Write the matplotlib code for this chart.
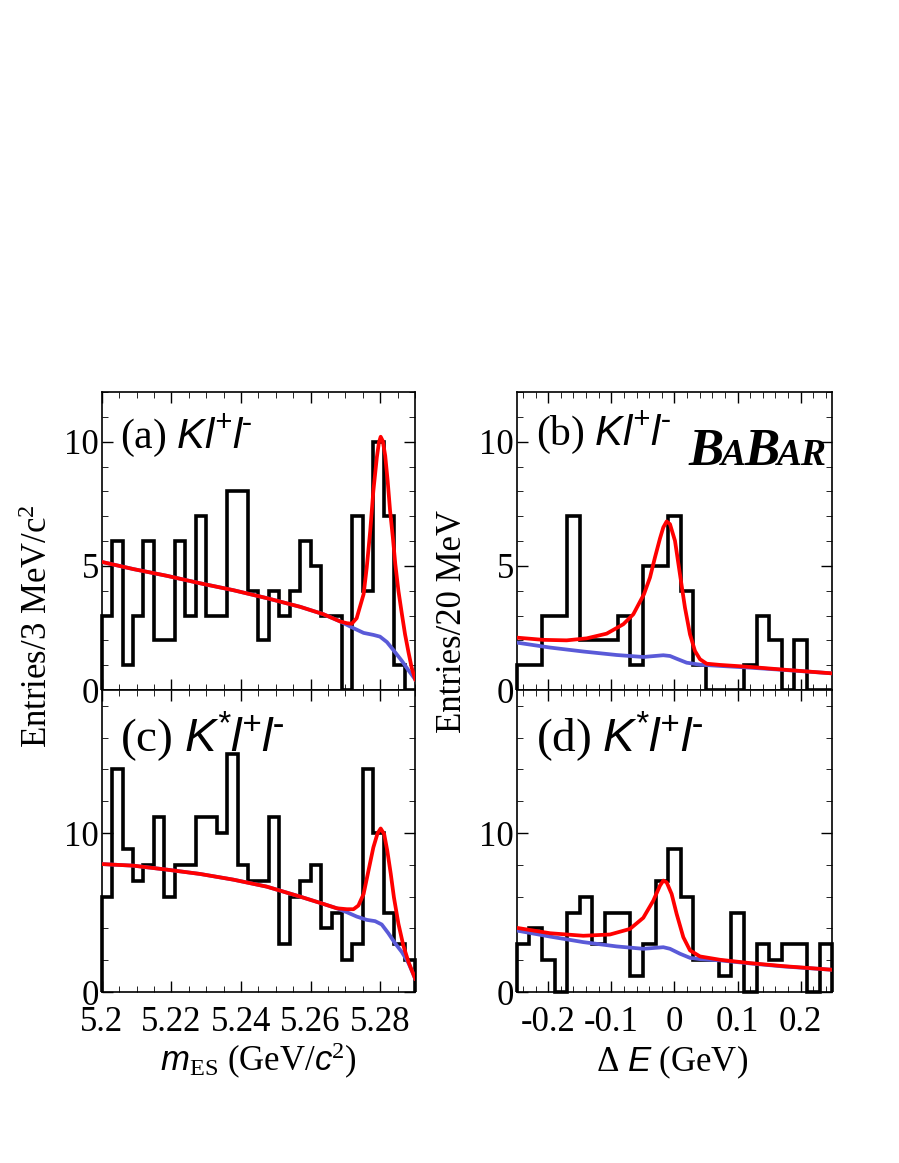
import numpy as np
import matplotlib
matplotlib.use('Agg')
import matplotlib.pyplot as plt
import matplotlib.ticker as mticker

# ── Style ──────────────────────────────────────────────────────────────────
plt.rcParams.update({
    "font.family":         "Liberation Serif",
    "mathtext.fontset":    "custom",
    "mathtext.rm":         "Liberation Serif",
    "mathtext.it":         "Liberation Serif:italic",
    "mathtext.sf":         "Liberation Sans:italic",
    "mathtext.bf":         "Liberation Serif:bold",
    "axes.unicode_minus":  False,
    "axes.linewidth":      1.2,
    "xtick.direction":     "in",
    "ytick.direction":     "in",
    "xtick.top":           True,
    "ytick.right":         True,
    "xtick.major.size":    8,
    "xtick.minor.size":    4,
    "ytick.major.size":    8,
    "ytick.minor.size":    4,
    "xtick.major.width":   1.0,
    "ytick.major.width":   1.0,
    "xtick.labelsize":     25,
    "ytick.labelsize":     25,
})

HIST_C = "black"
TOT_C  = "#ff0000"
BKG_C  = "#5a5ad8"

# ── Data: histograms ───────────────────────────────────────────────────────
MES_LO, MES_HI, MES_NBINS = 5.20, 5.29, 30
DE_LO, DE_HI, DE_NBINS    = -0.25, 0.25, 25

mes_kll  = [3, 6, 1, 3, 6, 2, 2, 6, 3, 7, 3, 3, 8, 8, 4,
            2, 4, 3, 4, 6, 5, 3, 3, 0, 7, 4, 10, 7, 1, 0]
mes_ksll = [6, 14, 9, 7, 8, 11, 6, 8, 8, 11, 11, 10, 15, 8, 7,
            7, 11, 3, 6, 7, 8, 4, 5, 2, 3, 14, 10, 5, 3, 2]
de_kll   = [1, 1, 3, 3, 7, 2, 2, 2, 3, 1, 5, 5, 7, 4, 1,
            0, 0, 0, 1, 3, 2, 0, 2, 0, 0]
de_ksll  = [3, 4, 2, 0, 5, 6, 3, 5, 5, 1, 3, 7, 9, 6, 2,
            2, 1, 5, 0, 3, 2, 3, 3, 0, 3]

# ── Data: fit curves ───────────────────────────────────────────────────────
a_bkg_x = [5.2000, 5.2091, 5.2187, 5.2282, 5.2378, 5.2474, 5.2570, 5.2637,
           5.2685, 5.2723, 5.2752, 5.2780, 5.2799, 5.2819, 5.2838, 5.2862,
           5.2881, 5.2900]
a_bkg_y = [5.16, 4.87, 4.60, 4.30, 4.02, 3.70, 3.35, 3.05,
           2.76, 2.49, 2.30, 2.22, 2.15, 1.93, 1.60, 1.17,
           0.79, 0.43]
a_tot_x = [5.2000, 5.2091, 5.2187, 5.2282, 5.2378, 5.2474, 5.2570, 5.2637,
           5.2685, 5.2704, 5.2718, 5.2732, 5.2752, 5.2761, 5.2771, 5.2780,
           5.2790, 5.2796, 5.2801, 5.2807, 5.2814, 5.2821, 5.2828, 5.2836,
           5.2843, 5.2852, 5.2862, 5.2871, 5.2881, 5.2890, 5.2900]
a_tot_y = [5.16, 4.87, 4.60, 4.30, 4.02, 3.70, 3.35, 3.05,
           2.76, 2.69, 2.67, 2.89, 3.86, 4.93, 6.41, 8.02,
           9.37, 9.97, 10.20, 10.03, 9.44, 8.43, 7.22, 6.14,
           5.07, 3.99, 3.05, 2.24, 1.51, 0.90, 0.43]

c_bkg_x = [5.2000, 5.2091, 5.2187, 5.2282, 5.2378, 5.2474, 5.2570, 5.2637,
           5.2675, 5.2704, 5.2732, 5.2761, 5.2785, 5.2804, 5.2823, 5.2842,
           5.2862, 5.2881, 5.2900]
c_bkg_y = [8.05, 7.95, 7.70, 7.43, 7.07, 6.63, 6.00, 5.54,
           5.27, 5.02, 4.75, 4.54, 4.46, 4.25, 3.70, 3.08,
           2.51, 1.82, 0.84]
c_tot_x = [5.2000, 5.2091, 5.2187, 5.2282, 5.2378, 5.2474, 5.2570, 5.2637,
           5.2675, 5.2704, 5.2723, 5.2737, 5.2752, 5.2766, 5.2780, 5.2792,
           5.2801, 5.2811, 5.2820, 5.2830, 5.2839, 5.2852, 5.2866, 5.2881,
           5.2900]
c_tot_y = [8.05, 7.95, 7.70, 7.43, 7.07, 6.63, 6.00, 5.54,
           5.27, 5.21, 5.21, 5.44, 6.17, 7.64, 9.10, 9.98,
           10.29, 9.94, 8.89, 7.43, 5.96, 4.29, 2.93, 1.88,
           0.84]

b_bkg_x = [-0.2500, -0.1972, -0.1444, -0.0916, -0.0494, -0.0177, -0.0071,
           0.0034, 0.0193, 0.0404, 0.0721, 0.1196, 0.1724, 0.2500]
b_bkg_y = [1.91, 1.71, 1.55, 1.41, 1.33, 1.40, 1.37,
           1.26, 1.10, 1.02, 0.97, 0.90, 0.81, 0.67]
b_tot_x = [-0.2500, -0.2078, -0.1708, -0.1391, -0.1074, -0.0810, -0.0652,
           -0.0483, -0.0388, -0.0309, -0.0230, -0.0177, -0.0124, -0.0071,
           0.0008, 0.0087, 0.0166, 0.0246, 0.0325, 0.0404, 0.0510, 0.0721,
           0.1196, 0.1724, 0.2500]
b_tot_y = [2.11, 2.02, 2.00, 2.08, 2.27, 2.65, 3.05,
           3.86, 4.53, 5.34, 6.10, 6.55, 6.79, 6.68,
           6.01, 4.66, 3.32, 2.24, 1.57, 1.24, 1.06, 1.01,
           0.93, 0.82, 0.67]

d_bkg_x = [-0.2500, -0.1972, -0.1444, -0.0916, -0.0494, -0.0177, -0.0071,
           0.0087, 0.0246, 0.0404, 0.0721, 0.1196, 0.1724, 0.2500]
d_bkg_y = [3.87, 3.49, 3.14, 2.87, 2.72, 2.82, 2.72,
           2.41, 2.15, 2.07, 1.99, 1.80, 1.61, 1.40]
d_tot_x = [-0.2500, -0.1972, -0.1444, -0.1022, -0.0705, -0.0494, -0.0335,
           -0.0230, -0.0177, -0.0124, -0.0045, 0.0034, 0.0140, 0.0246,
           0.0404, 0.0721, 0.1196, 0.1724, 0.2500]
d_tot_y = [4.04, 3.70, 3.54, 3.62, 3.97, 4.67, 5.75,
           6.69, 7.01, 6.90, 6.17, 4.92, 3.45, 2.62,
           2.24, 2.03, 1.82, 1.63, 1.40]

MES_TICKS  = [5.20, 5.22, 5.24, 5.26, 5.28]
MES_LABELS = ["5.2", "5.22", "5.24", "5.26", "5.28"]
DE_TICKS   = [-0.2, -0.1, 0.0, 0.1, 0.2]
DE_LABELS  = ["-0.2", "-0.1", "0", "0.1", "0.2"]

# ── Figure ─────────────────────────────────────────────────────────────────
fig = plt.figure(figsize=(8.99, 11.63), dpi=100)
ax_a = fig.add_axes([0.1131, 0.4067, 0.3487, 0.2562])
ax_c = fig.add_axes([0.1131, 0.1470, 0.3487, 0.2597])
ax_b = fig.add_axes([0.5747, 0.4067, 0.3511, 0.2562])
ax_d = fig.add_axes([0.5747, 0.1470, 0.3511, 0.2597])

mes_edges = np.linspace(MES_LO, MES_HI, MES_NBINS + 1)
de_edges  = np.linspace(DE_LO, DE_HI, DE_NBINS + 1)

panels = [
    (ax_a, mes_edges, mes_kll,  a_bkg_x, a_bkg_y, a_tot_x, a_tot_y),
    (ax_c, mes_edges, mes_ksll, c_bkg_x, c_bkg_y, c_tot_x, c_tot_y),
    (ax_b, de_edges,  de_kll,   b_bkg_x, b_bkg_y, b_tot_x, b_tot_y),
    (ax_d, de_edges,  de_ksll,  d_bkg_x, d_bkg_y, d_tot_x, d_tot_y),
]
for ax, edges, counts, bx, by, tx, ty in panels:
    ax.stairs(counts, edges, color=HIST_C, linewidth=2.6, clip_on=False, zorder=2)
    ax.plot(bx, by, color=BKG_C, linewidth=2.7, zorder=3)
    ax.plot(tx, ty, color=TOT_C, linewidth=2.7, zorder=4)
    ax.set_xlim(edges[0], edges[-1])
    ax.tick_params(which="both", direction="in", top=True, right=True)
    ax.tick_params(axis="y", pad=2)
    ax.tick_params(axis="x", pad=10)

# top row
for ax in (ax_a, ax_b):
    ax.set_ylim(0, 12)
    ax.yaxis.set_major_locator(mticker.FixedLocator([0, 5, 10]))
    ax.yaxis.set_minor_locator(mticker.MultipleLocator(1))
# bottom row
for ax in (ax_c, ax_d):
    ax.set_ylim(0, 19)
    ax.yaxis.set_major_locator(mticker.FixedLocator([0, 10]))
    ax.yaxis.set_minor_locator(mticker.MultipleLocator(2))

for ax in (ax_a, ax_c):
    ax.set_xticks(MES_TICKS)
    ax.set_xticklabels(MES_LABELS)
    ax.xaxis.set_minor_locator(mticker.MultipleLocator(0.005))
for ax in (ax_b, ax_d):
    ax.set_xticks(DE_TICKS)
    ax.set_xticklabels(DE_LABELS)
    ax.xaxis.set_minor_locator(mticker.MultipleLocator(0.02))
ax_a.tick_params(axis="x", labelbottom=False)
ax_b.tick_params(axis="x", labelbottom=False)

# ── Panel labels ───────────────────────────────────────────────────────────
ax_a.text(0.06, 0.815, r"(a) $\mathsf{Kl^{+}l^{\text{-}}}$", transform=ax_a.transAxes,
          fontsize=30, va="baseline")
ax_b.text(0.06, 0.825, r"(b) $\mathsf{Kl^{+}l^{\text{-}}}$", transform=ax_b.transAxes,
          fontsize=30, va="baseline")
ax_c.text(0.06, 0.795, r"(c) $\mathsf{K^{*}l^{+}l^{\text{-}}}$", transform=ax_c.transAxes,
          fontsize=34, va="baseline")
ax_d.text(0.06, 0.795, r"(d) $\mathsf{K^{*}l^{+}l^{\text{-}}}$", transform=ax_d.transAxes,
          fontsize=34, va="baseline")

# BABAR logo, pieces chained left to right
renderer = fig.canvas.get_renderer()
W = fig.bbox.width
x_px = 688.0
for s, size in [("B", 38), ("A", 27), ("B", 38), ("AR", 27)]:
    t = fig.text(x_px / W, 0.6002, s, fontsize=size, fontweight="bold",
                 fontstyle="italic", family="Liberation Serif",
                 ha="left", va="baseline")
    bb = t.get_window_extent(renderer)
    x_px = bb.x1 - 2

# ── Axis titles ────────────────────────────────────────────────────────────
fig.text(0.043, 0.462, r"Entries/3 MeV/c$^{2}$", rotation=90,
         ha="center", va="center", fontsize=25)
fig.text(0.503, 0.466, "Entries/20 MeV", rotation=90,
         ha="center", va="center", fontsize=25)
fig.text(0.287, 0.0790, r"$\mathsf{m}_{\mathrm{ES}}$ (GeV/$\mathsf{c}^{2}$)",
         ha="center", va="baseline", fontsize=25)
fig.text(0.748, 0.0790, r"$\Delta$ $\mathsf{E}$ (GeV)",
         ha="center", va="baseline", fontsize=25)

fig.savefig("out.png", dpi=100)
plt.close(fig)
